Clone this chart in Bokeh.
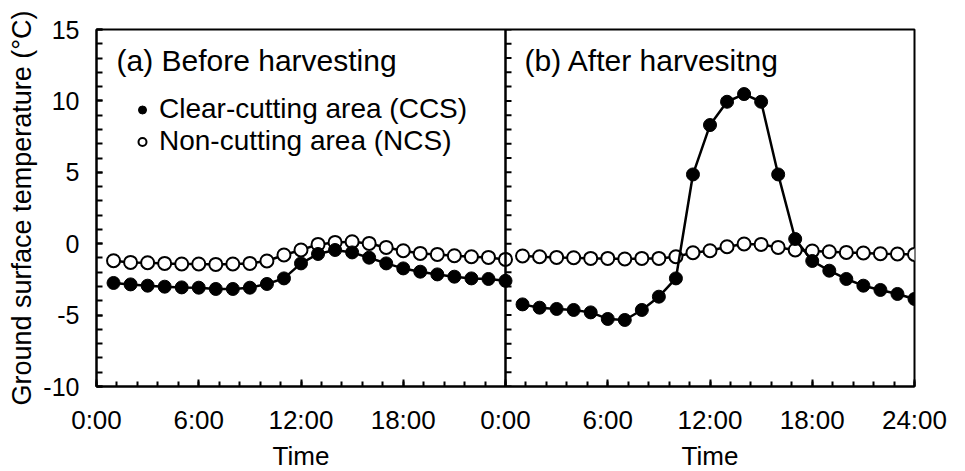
from bokeh.plotting import figure
from bokeh.models import (FixedTicker, SingleIntervalTicker, Range1d, Span, Label,
                          Legend, LegendItem)
from bokeh.embed import file_html
from bokeh.resources import INLINE

FONT = "Liberation Sans"

# ---- data (hours of day, ground surface temperature in degC) ----
hours = list(range(1, 25))
ccs_before = [-2.75, -2.85, -2.94, -3.01, -3.06, -3.08, -3.17, -3.17, -3.08, -2.82, -2.43, -1.38,
              -0.72, -0.44, -0.61, -0.98, -1.38, -1.73, -1.96, -2.15, -2.31, -2.43, -2.47, -2.60]
ncs_before = [-1.19, -1.31, -1.33, -1.38, -1.42, -1.42, -1.45, -1.42, -1.38, -1.21, -0.79, -0.44,
              -0.05, 0.09, 0.14, 0.02, -0.26, -0.49, -0.68, -0.75, -0.84, -0.91, -0.96, -1.10]
ccs_after = [-4.25, -4.48, -4.57, -4.64, -4.81, -5.27, -5.34, -4.64, -3.71, -2.43, 4.85, 8.31,
             9.94, 10.48, 9.94, 4.85, 0.33, -1.21, -1.89, -2.47, -2.94, -3.24, -3.52, -3.87]
ncs_after = [-0.86, -0.91, -0.96, -0.98, -1.03, -1.03, -1.07, -1.03, -1.03, -0.91, -0.63, -0.49,
             -0.21, -0.02, -0.05, -0.26, -0.44, -0.51, -0.56, -0.61, -0.65, -0.70, -0.72, -0.75]

panel_offset = 24  # second panel starts after one full day
x_tick_hours = [0, 6, 12, 18, 24, 30, 36, 42, 48]
x_tick_labels = ["0:00", "6:00", "12:00\nTime", "18:00", "0:00", "6:00", "12:00\nTime", "18:00", "24:00"]
x_minor_step = 1.2
y_major_ticks = [-10, -5, 0, 5, 10, 15]
y_tick_labels = ["-10", "-5", "0", "5", "10", "15"]
y_ticks_minor = list(range(-10, 16))
panel_titles = ["(a) Before harvesting", "(b) After harvesitng"]
series_labels = ["Clear-cutting area (CCS)", "Non-cutting area (NCS)"]

p = figure(x_range=Range1d(0, 48), y_range=Range1d(-10, 15),
           frame_width=818, frame_height=357,
           min_border_left=96, min_border_top=29, min_border_bottom=70, min_border_right=35,
           output_backend="svg", toolbar_location=None)
p.background_fill_color = "white"
p.border_fill_color = "white"
p.grid.visible = False
p.outline_line_color = "black"
p.outline_line_width = 2

# x axis
xa = p.xaxis[0]
xa.ticker = FixedTicker(ticks=x_tick_hours,
                        minor_ticks=[round(x_minor_step * k, 3) for k in range(int(48 / x_minor_step) + 1)])
xa.major_label_overrides = {t: l for t, l in zip(x_tick_hours, x_tick_labels)}
xa.major_tick_in = 7
xa.major_tick_out = 0
xa.minor_tick_in = 5
xa.minor_tick_out = 0
xa.major_tick_line_width = 2
xa.minor_tick_line_width = 2
xa.axis_line_width = 2
xa.major_label_text_font = FONT
xa.major_label_text_font_size = "26px"
xa.major_label_text_color = "black"
xa.major_label_text_line_height = 1.2
xa.major_label_standoff = 18

# y axis
ya = p.yaxis[0]
ya.ticker = SingleIntervalTicker(interval=5, num_minor_ticks=5)
ya.major_label_overrides = {t: l for t, l in zip(y_major_ticks, y_tick_labels)}
ya.major_tick_in = 6
ya.major_tick_out = 0
ya.minor_tick_in = 6
ya.minor_tick_out = 0
ya.major_tick_line_width = 2
ya.minor_tick_line_width = 2
ya.axis_line_width = 2
ya.major_label_text_font = FONT
ya.major_label_text_font_size = "25px"
ya.major_label_text_color = "black"
ya.major_label_standoff = 17
ya.axis_label = "Ground surface temperature (°C)"
ya.axis_label_text_font = FONT
ya.axis_label_text_font_size = "27px"
ya.axis_label_text_font_style = "normal"
ya.axis_label_text_color = "black"
ya.axis_label_standoff = 3

# panel divider with inward ticks
p.add_layout(Span(location=panel_offset, dimension="height", line_color="black", line_width=2.5))
p.ray(x=[panel_offset] * len(y_ticks_minor), y=y_ticks_minor, length=6, length_units="screen",
      angle=0, line_color="black", line_width=2)

# series
xb = hours
xa2 = [h + panel_offset for h in hours]
for xs, ccs, ncs in [(xb, ccs_before, ncs_before), (xa2, ccs_after, ncs_after)]:
    p.line(xs, ncs, line_color="black", line_width=2.5)
    r_open = p.scatter(xs, ncs, size=13, marker="circle", fill_color="white",
                       line_color="black", line_width=2)
    p.line(xs, ccs, line_color="black", line_width=2.5)
    r_fill = p.scatter(xs, ccs, size=13, marker="circle", fill_color="black",
                       line_color="black", line_width=1)
    if xs is xb:
        leg_fill, leg_open = r_fill, r_open

legend = Legend(items=[LegendItem(label=series_labels[0], renderers=[leg_fill]),
                       LegendItem(label=series_labels[1], renderers=[leg_open])],
                location=(36, 229), orientation="vertical")
legend.background_fill_alpha = 0
legend.border_line_color = None
legend.padding = 0
legend.margin = 0
legend.spacing = 0
legend.glyph_width = 20
legend.glyph_height = 31
legend.label_height = 31
legend.label_standoff = 7
legend.label_text_font = FONT
legend.label_text_font_size = "28px"
legend.label_text_color = "black"
p.add_layout(legend, "center")

for x_px, t in zip([20, 428], panel_titles):
    p.add_layout(Label(x=x_px, y=326, x_units="screen", y_units="screen", text=t,
                       text_font=FONT, text_font_size="30px", text_baseline="middle",
                       text_color="black"))

open("out.html", "w").write(file_html(p, INLINE))
